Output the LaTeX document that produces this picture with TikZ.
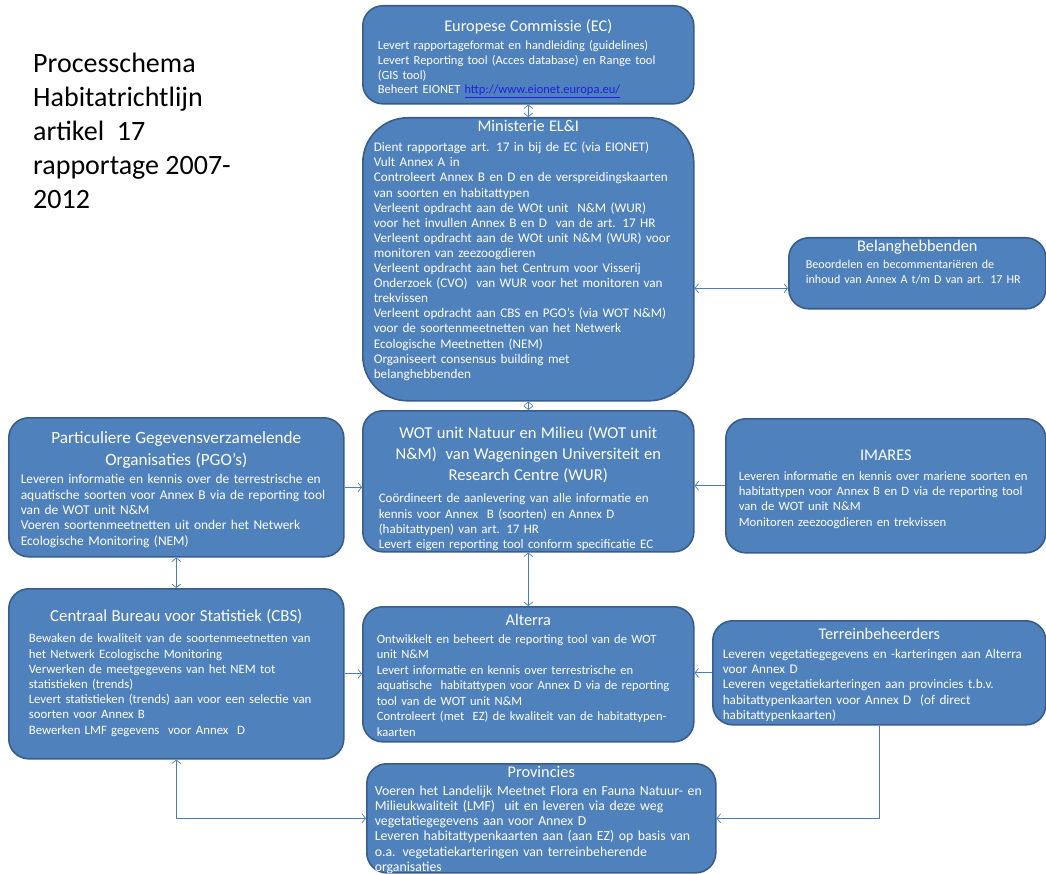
\documentclass[tikz,border=0pt]{standalone}
\usepackage{fontspec}
\setmainfont{Carlito}
\usepackage{tikz}
\usetikzlibrary{arrows.meta}
\definecolor{orgfill}{HTML}{4F81BD}
\definecolor{orgline}{HTML}{385D8A}
\definecolor{linkline}{HTML}{4A7EBB}
\definecolor{urlblue}{HTML}{1F1FE0}
% title of a box: size, leading, extra gap, text
\newcommand{\orghead}[4]{{\centering\fontsize{#1}{#2}\selectfont #4\par}\vspace{#3}}
\tikzstyle{org}=[rectangle, rounded corners=20pt, draw=orgline, line width=1.6pt,
                 fill=orgfill, text=white, anchor=north west, align=left,
                 inner ysep=0pt]
\tikzstyle{link}=[draw=linkline, line width=0.7pt, -{Straight Barb[length=3.5pt,width=9pt]}]
\tikzstyle{both}=[link, {Straight Barb[length=3.5pt,width=9pt]}-{Straight Barb[length=3.5pt,width=9pt]}]

\begin{document}
\begin{tikzpicture}[x=1pt,y=-1pt]
  \useasboundingbox (0,0) rectangle (1046,874);
  \node[anchor=base west, align=left, inner sep=0pt, font=\fontsize{28}{34}\selectfont]
	(title) at (33,209) {Processchema\\Habitatrichtlijn\\artikel~~17\\rapportage 2007-\\2012};
  \node[org, inner xsep=15pt, text width=301pt, text height=25.5pt, text depth=72.5pt,
	font=\fontsize{12.5}{14.6}\selectfont] (ec) at (362,5)
	{\orghead{16.3}{20}{4pt}{Europese Commissie (EC)}
	Levert rapportageformat en handleiding (guidelines)\\
	Levert Reporting tool (Acces database) en Range tool\\
	(GIS tool)\\
	Beheert EIONET \textcolor{urlblue}{\underline{http://www.eionet.europa.eu/}}};
  \node[org, rounded corners=45pt, inner xsep=11pt, text width=309pt, text height=14pt,
	text depth=269pt, font=\fontsize{13.2}{15.1}\selectfont] (min) at (362,117)
	{\orghead{16.3}{20}{4.9pt}{Ministerie EL\&I}
	Dient rapportage art. 17 in bij de EC (via EIONET)\\
	Vult Annex A in\\
	Controleert Annex B en D en de verspreidingskaarten\\
	van soorten en habitattypen\\
	Verleent opdracht aan de WOt unit~ N\&M (WUR)\\
	voor het invullen Annex B en D~ van de art. 17 HR\\
	Verleent opdracht aan de WOt unit N\&M (WUR) voor\\
	monitoren van zeezoogdieren\\
	Verleent opdracht aan het Centrum voor Visserij\\
	Onderzoek (CVO)~ van WUR voor het monitoren van\\
	trekvissen\\
	Verleent opdracht aan CBS en PGO’s (via WOT N\&M)\\
	voor de soortenmeetnetten van het Netwerk\\
	Ecologische Meetnetten (NEM)\\
	Organiseert consensus building met\\
	belanghebbenden};
  \node[org, inner xsep=17pt, text width=223pt, text height=13.5pt, text depth=57.5pt,
	font=\fontsize{12.1}{15}\selectfont] (bel) at (788,237)
	{\orghead{16.3}{20}{2pt}{Belanghebbenden}
	Beoordelen en becommentariëren de\\
	inhoud van Annex A t/m D van art. 17 HR};
  \node[org, inner xsep=16pt, text width=299pt, text height=28pt, text depth=113pt,
	font=\fontsize{13}{15.3}\selectfont] (wot) at (362,410)
	{\orghead{16.6}{21}{6.7pt}{WOT unit Natuur en Milieu (WOT unit\\
	N\&M)~ van Wageningen Universiteit en\\
	Research Centre (WUR)}
	Coördineert de aanlevering van alle informatie en\\
	kennis voor Annex~ B (soorten) en Annex D\\
	(habitattypen) van art. 17 HR\\
	Levert eigen reporting tool conform specificatie EC};
  \node[org, inner xsep=12pt, text width=311pt, text height=26pt, text depth=113pt,
	font=\fontsize{13.4}{15.3}\selectfont] (pgo) at (8,417)
	{\orghead{17.2}{22}{2.7pt}{Particuliere Gegevensverzamelende\\
	Organisaties (PGO’s)}
	Leveren informatie en kennis over de terrestrische en\\
	aquatische soorten voor Annex B via de reporting tool\\
	van de WOT unit N\&M\\
	Voeren soortenmeetnetten uit onder het Netwerk\\
	Ecologische Monitoring (NEM)};
  \node[org, inner xsep=13pt, text width=294pt, text height=42pt, text depth=92pt,
	font=\fontsize{12.7}{15.3}\selectfont] (ima) at (725,418)
	{\orghead{16.3}{20}{4pt}{IMARES}
	Leveren informatie en kennis over mariene soorten en\\
	habitattypen voor Annex B en D via de reporting tool\\
	van de WOT unit N\&M\\
	Monitoren zeezoogdieren en trekvissen};
  \node[org, inner xsep=20pt, text width=295pt, text height=33pt, text depth=137pt,
	font=\fontsize{12.8}{15.2}\selectfont] (cbs) at (8,588)
	{\orghead{16.8}{21}{5.8pt}{Centraal Bureau voor Statistiek (CBS)}
	Bewaken de kwaliteit van de soortenmeetnetten van\\
	het Netwerk Ecologische Monitoring\\
	Verwerken de meetgegevens van het NEM tot\\
	statistieken (trends)\\
	Levert statistieken (trends) aan voor een selectie van\\
	soorten voor Annex B\\
	Bewerken LMF gegevens~ voor Annex~ D};
  \node[org, inner xsep=14pt, text width=303pt, text height=18.5pt, text depth=116.5pt,
	font=\fontsize{12.6}{15.5}\selectfont] (alt) at (362,606)
	{\orghead{16.3}{20}{2.5pt}{Alterra}
	Ontwikkelt en beheert de reporting tool van de WOT\\
	unit N\&M\\
	Levert informatie en kennis over terrestrische en\\
	aquatische~ habitattypen voor Annex D via de reporting\\
	tool van de WOT unit N\&M\\
	Controleert (met~ EZ) de kwaliteit van de habitattypen-\\
	kaarten};
  \node[org, inner xsep=10pt, text width=313pt, text height=18.5pt, text depth=85.5pt,
	font=\fontsize{13.2}{15.3}\selectfont] (ter) at (712,620)
	{\orghead{16.3}{20}{3.7pt}{Terreinbeheerders}
	Leveren vegetatiegegevens en -karteringen aan Alterra\\
	voor Annex D\\
	Leveren vegetatiekarteringen aan provincies t.b.v.\\
	habitattypenkaarten voor Annex D~ (of direct\\
	habitattypenkaarten)};
  \node[org, inner xsep=8pt, text width=333pt, text height=13.5pt, text depth=95.5pt,
	font=\fontsize{13.8}{15.2}\selectfont] (pro) at (366,763)
	{\orghead{16.3}{20}{2.8pt}{Provincies}
	Voeren het Landelijk Meetnet Flora en Fauna Natuur- en\\
	Milieukwaliteit (LMF)~ uit en leveren via deze weg\\
	vegetatiegegevens aan voor Annex D\\
	Leveren habitattypenkaarten aan (aan EZ) op basis van\\
	o.a. vegetatiekarteringen van terreinbeherende\\
	organisaties};
  \draw[both] (ec.south) -- (min.north);
  \draw[both] (min.south) -- (wot.north);
  \draw[both] ([yshift=-15pt]bel.west -| min.east) -- ([yshift=-15pt]bel.west);
  \draw[link] (pgo.east) -- (pgo.east -| wot.west);
  \draw[link] (ima.west) -- (ima.west -| wot.east);
  \draw[both] (wot.south) -- (alt.north);
  \draw[both] (pgo.south) -- (cbs.north);
  \draw[link] (cbs.east) -- (cbs.east -| alt.west);
  \draw[link] (ter.west) -- (ter.west -| alt.east);
  \draw[link] (ter.south) |- (pro.east);
  \draw[both] (cbs.south) |- (pro.west);
\end{tikzpicture}
\end{document}
